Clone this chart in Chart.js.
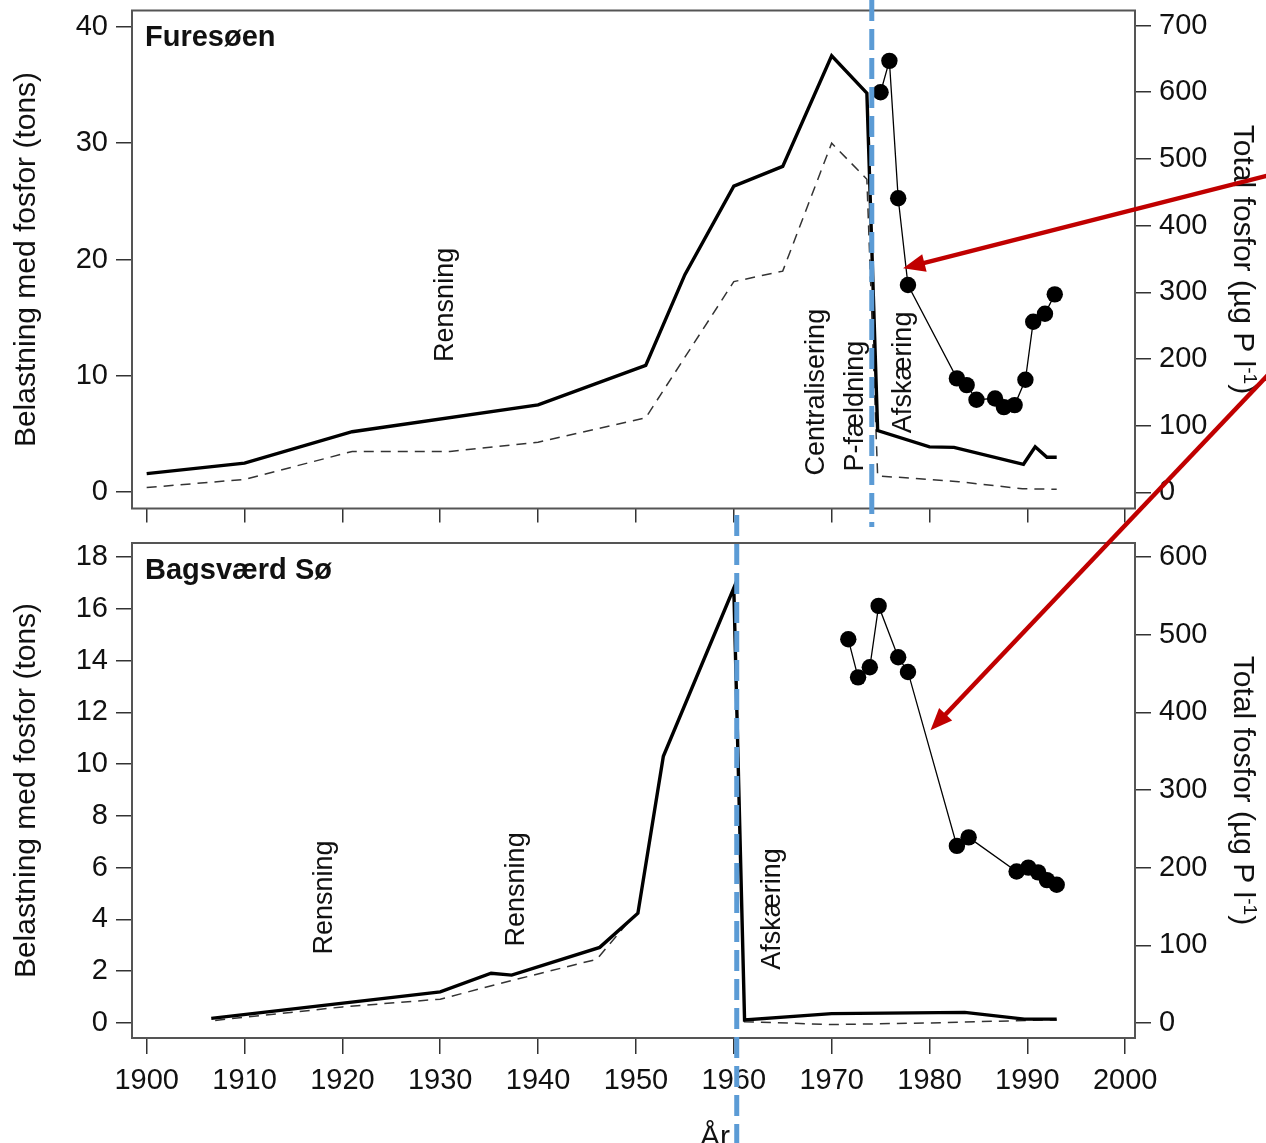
<!DOCTYPE html>
<html>
<head>
<meta charset="utf-8">
<script src="https://cdn.jsdelivr.net/npm/chart.js@4.4.1/dist/chart.umd.min.js"></script>
<style>
  html, body { margin: 0; padding: 0; background: #fff; }
  #wrap { position: relative; width: 1266px; height: 1143px; overflow: hidden; }
  #wrap canvas { position: absolute; left: 0; }
  #c1 { top: 0; }
  #c2 { top: 530px; }
  #ov { top: 0; pointer-events: none; }
</style>
</head>
<body>
<div id="wrap">
  <canvas id="c1" width="1266" height="530"></canvas>
  <canvas id="c2" width="1266" height="613"></canvas>
  <canvas id="ov" width="1266" height="1143"></canvas>
</div>
<script>
// ---- Furesøen: phosphorus load (tons) and lake total phosphorus (µg P/l) ----
const furLoadYears = [1900, 1910, 1921, 1940, 1951, 1955, 1960, 1965, 1970, 1973.6, 1974.7, 1980, 1982.5, 1989.6, 1990.8, 1992, 1993];
const furLoad      = [1.6, 2.5, 5.2, 7.5, 10.9, 18.7, 26.3, 28.0, 37.5, 34.3, 5.3, 3.9, 3.85, 2.4, 3.9, 3.0, 3.0];
const furSewYears  = [1900, 1910, 1921, 1931, 1940, 1951, 1960, 1965, 1970, 1973.6, 1974.7, 1980, 1983, 1989.5, 1993];
const furSew       = [0.4, 1.1, 3.5, 3.5, 4.3, 6.4, 18.1, 19.0, 30.0, 26.9, 1.4, 1.1, 0.9, 0.3, 0.25];
const furTPYears   = [1975.0, 1975.9, 1976.8, 1977.8, 1982.8, 1983.8, 1984.8, 1986.7, 1987.6, 1988.7, 1989.8, 1990.6, 1991.8, 1992.8];
const furTP        = [600, 647, 441, 311, 171, 161, 139, 141, 128, 131, 169, 256, 268, 297];

// ---- Bagsværd Sø ----
const bagLoadYears = [1906.6, 1930, 1935.2, 1937.3, 1946.3, 1950.2, 1952.8, 1960, 1961.1, 1970, 1983.6, 1989.7, 1993];
const bagLoad      = [0.18, 1.2, 1.92, 1.85, 2.92, 4.24, 10.3, 16.8, 0.12, 0.36, 0.41, 0.15, 0.15];
const bagSewYears  = [1907, 1920, 1930, 1937.5, 1946, 1949.4, 1950.2, 1952.8, 1960, 1961.1, 1970, 1980, 1990, 1993];
const bagSew       = [0.1, 0.62, 0.92, 1.66, 2.46, 3.98, 4.24, 10.3, 16.8, 0.05, -0.06, 0.0, 0.1, 0.12];
const bagTPYears   = [1971.7, 1972.7, 1973.9, 1974.8, 1976.8, 1977.8, 1982.8, 1984.0, 1988.9, 1990.1, 1991.1, 1992.0, 1993.0];
const bagTP        = [494, 445, 458, 537, 471, 452, 228, 239, 195, 200, 194, 184, 178];

// ---- tick values ----
const yearTicks    = [1900, 1910, 1920, 1930, 1940, 1950, 1960, 1970, 1980, 1990, 2000];
const furLoadTicks = [0, 10, 20, 30, 40];
const furTPTicks   = [0, 100, 200, 300, 400, 500, 600, 700];
const bagLoadTicks = [0, 2, 4, 6, 8, 10, 12, 14, 16, 18];
const bagTPTicks   = [0, 100, 200, 300, 400, 500, 600];

// ---- texts ----
const leftTitle  = 'Belastning med fosfor (tons)';
const rightTitle = ['Total fosfor (µg P l', '-1', ')'];
const xTitle     = 'År';
const furNotes = [
  { text: 'Rensning',       x: 1930.5, y: 16.1 },
  { text: 'Centralisering', x: 1968.5, y: 8.6 },
  { text: 'P-fældning',     x: 1972.4, y: 7.4 },
  { text: 'Afskæring',      x: 1977.3, y: 10.3 }
];
const bagNotes = [
  { text: 'Rensning',  x: 1918.2, y: 4.85 },
  { text: 'Rensning',  x: 1937.8, y: 5.16 },
  { text: 'Afskæring', x: 1964.0, y: 4.4 }
];
// measures taken: Furesøen 1974, Bagsværd Sø 1960
const eventYears = { fur: 1974.1, bag: 1960.3 };
// arrows point at the lake concentration curve
const arrowTargets = { fur: { x: 1977.3, y: 336 }, bag: { x: 1980.1, y: 377 } };

const FONT = '"Liberation Sans", Arial, Helvetica, sans-serif';
const INK = '#111';

const pts = (xs, ys) => xs.map((x, i) => ({ x: x, y: ys[i] }));
const setTicks = vals => s => { s.ticks = vals.map(v => ({ value: v })); };
const fixWidth = w => s => { s.width = w; s.paddingTop = 0; s.paddingBottom = 0; };
const fixHeight = h => s => { s.height = h; s.paddingLeft = 0; s.paddingRight = 0; };

function panelPlugin(cfg) {
  return {
    id: 'panel_' + cfg.key,
    afterDatasetsDraw(chart) {
      const ctx = chart.ctx, a = chart.chartArea, sx = chart.scales.x, sy = chart.scales.y;
      ctx.save();
      ctx.fillStyle = INK;
      // rotated notes
      ctx.font = '27px ' + FONT;
      ctx.textAlign = 'center';
      ctx.textBaseline = 'middle';
      cfg.notes.forEach(n => {
        ctx.save();
        ctx.translate(sx.getPixelForValue(n.x), sy.getPixelForValue(n.y));
        ctx.rotate(-Math.PI / 2);
        ctx.fillText(n.text, 0, 0);
        ctx.restore();
      });
      // panel title
      ctx.font = 'bold 29px ' + FONT;
      ctx.textAlign = 'left';
      ctx.textBaseline = 'alphabetic';
      ctx.fillText(cfg.title, a.left + 13, a.top + 35.5);
      // frame
      ctx.strokeStyle = '#555';
      ctx.lineWidth = 2;
      ctx.strokeRect(a.left, a.top, a.right - a.left, a.bottom - a.top);
      // right axis title with superscript
      ctx.translate(chart.width - 22, (a.top + a.bottom) / 2);
      ctx.rotate(Math.PI / 2);
      const f1 = '30px ' + FONT, f2 = '19px ' + FONT;
      ctx.font = f1;
      const w1 = ctx.measureText(rightTitle[0]).width, w3 = ctx.measureText(rightTitle[2]).width;
      ctx.font = f2;
      const w2 = ctx.measureText(rightTitle[1]).width;
      let s = -(w1 + w2 + w3) / 2;
      ctx.font = f1; ctx.fillText(rightTitle[0], s, 10.5); s += w1;
      ctx.font = f2; ctx.fillText(rightTitle[1], s, 0); s += w2;
      ctx.font = f1; ctx.fillText(rightTitle[2], s, 10.5);
      ctx.restore();
    }
  };
}

function makePanel(canvas, opt) {
  const tickFont = { family: FONT, size: 29 };
  const grid = { drawOnChartArea: false, drawTicks: true, tickLength: 16, color: '#333', lineWidth: 1.5 };
  return new Chart(canvas, {
    type: 'line',
    data: {
      datasets: [
        { data: pts(opt.loadX, opt.load), yAxisID: 'y', borderColor: '#000', borderWidth: 3.4,
          pointRadius: 0, tension: 0, order: 2, borderJoinStyle: 'miter' },
        { data: pts(opt.sewX, opt.sew), yAxisID: 'y', borderColor: '#333', borderWidth: 1.5,
          borderDash: [10, 7], pointRadius: 0, tension: 0, order: 3 },
        { data: pts(opt.tpX, opt.tp), yAxisID: 'y2', borderColor: '#000', borderWidth: 1.3,
          pointRadius: 8.2, pointBackgroundColor: '#000', pointBorderWidth: 0, tension: 0, order: 1 }
      ]
    },
    options: {
      responsive: false,
      animation: false,
      devicePixelRatio: 1,
      events: [],
      layout: { padding: { top: opt.padTop, left: 0, right: 0, bottom: 0 } },
      plugins: { legend: { display: false }, tooltip: { enabled: false } },
      scales: {
        x: {
          type: 'linear', position: 'bottom', min: 1898.5, max: 2001,
          afterBuildTicks: setTicks(yearTicks),
          afterFit: fixHeight(opt.xHeight),
          border: { display: false },
          grid: Object.assign({}, grid, { tickLength: opt.xTickLen }),
          ticks: { display: opt.xLabels, font: tickFont, color: INK, padding: 10, maxRotation: 0,
                   callback: v => String(v) }
        },
        y: {
          type: 'linear', position: 'left', min: opt.yMin, max: opt.yMax,
          afterBuildTicks: setTicks(opt.yTicks),
          afterFit: fixWidth(132),
          border: { display: false },
          grid: grid,
          ticks: { font: tickFont, color: INK, padding: 8 },
          title: { display: true, text: leftTitle, color: INK, font: { family: FONT, size: 30 },
                   padding: { top: 9, bottom: 0 } }
        },
        y2: {
          type: 'linear', position: 'right', min: opt.y2Min, max: opt.y2Max,
          afterBuildTicks: setTicks(opt.y2Ticks),
          afterFit: fixWidth(131),
          border: { display: false },
          grid: grid,
          ticks: { font: tickFont, color: INK, padding: 8 }
        }
      }
    },
    plugins: [panelPlugin({ key: opt.key, title: opt.title, notes: opt.notes })]
  });
}

const topChart = makePanel(document.getElementById('c1'), {
  key: 'fur', title: 'Furesøen', notes: furNotes,
  loadX: furLoadYears, load: furLoad, sewX: furSewYears, sew: furSew, tpX: furTPYears, tp: furTP,
  padTop: 10.5, xHeight: 21.5, xTickLen: 14, xLabels: false,
  yMin: -1.4, yMax: 41.4, yTicks: furLoadTicks,
  y2Min: -24, y2Max: 722.5, y2Ticks: furTPTicks
});

const bottomChart = makePanel(document.getElementById('c2'), {
  key: 'bag', title: 'Bagsværd Sø', notes: bagNotes,
  loadX: bagLoadYears, load: bagLoad, sewX: bagSewYears, sew: bagSew, tpX: bagTPYears, tp: bagTP,
  padTop: 13, xHeight: 105, xTickLen: 16, xLabels: true,
  yMin: -0.58, yMax: 18.54, yTicks: bagLoadTicks,
  y2Min: -19.3, y2Max: 618, y2Ticks: bagTPTicks
});

// ---- page-wide overlay: event markers, arrows, x-axis title ----
function drawOverlay() {
  const ctx = document.getElementById('ov').getContext('2d');
  const off = ch => ch.canvas.offsetTop;

  // dashed blue markers at the year of the measure
  const markers = [
    { chart: topChart, year: eventYears.fur, y0: 0, y1: 527 },
    { chart: bottomChart, year: eventYears.bag, y0: 515, y1: 1143 }
  ];
  ctx.save();
  ctx.strokeStyle = '#5B9BD5';
  ctx.lineWidth = 5;
  ctx.setLineDash([21, 8]);
  markers.forEach(m => {
    const x = m.chart.scales.x.getPixelForValue(m.year);
    ctx.beginPath();
    ctx.moveTo(x, m.y0);
    ctx.lineTo(x, m.y1);
    ctx.stroke();
  });
  ctx.restore();

  // red arrows from the right margin
  const arrows = [
    { chart: topChart, target: arrowTargets.fur, tail: [1266, 176] },
    { chart: bottomChart, target: arrowTargets.bag, tail: [1266, 377] }
  ];
  ctx.save();
  ctx.strokeStyle = '#C00000';
  ctx.fillStyle = '#C00000';
  ctx.lineWidth = 4.5;
  arrows.forEach(ar => {
    const tx = ar.chart.scales.x.getPixelForValue(ar.target.x);
    const ty = ar.chart.scales.y2.getPixelForValue(ar.target.y) + off(ar.chart);
    let dx = ar.tail[0] - tx, dy = ar.tail[1] - ty;
    const len = Math.hypot(dx, dy);
    dx /= len; dy /= len;
    const L = 22, W = 9;
    ctx.beginPath();
    ctx.moveTo(tx + dx * (L - 2), ty + dy * (L - 2));
    ctx.lineTo(ar.tail[0] + dx * 20, ar.tail[1] + dy * 20);
    ctx.stroke();
    ctx.beginPath();
    ctx.moveTo(tx, ty);
    ctx.lineTo(tx + dx * L - dy * W, ty + dy * L + dx * W);
    ctx.lineTo(tx + dx * L + dy * W, ty + dy * L - dx * W);
    ctx.closePath();
    ctx.fill();
  });
  ctx.restore();

  // x-axis title
  ctx.save();
  ctx.fillStyle = INK;
  ctx.font = '30px ' + FONT;
  ctx.textAlign = 'center';
  ctx.textBaseline = 'alphabetic';
  ctx.fillText(xTitle, 715, 1146);
  ctx.restore();
}
drawOverlay();
</script>
</body>
</html>
